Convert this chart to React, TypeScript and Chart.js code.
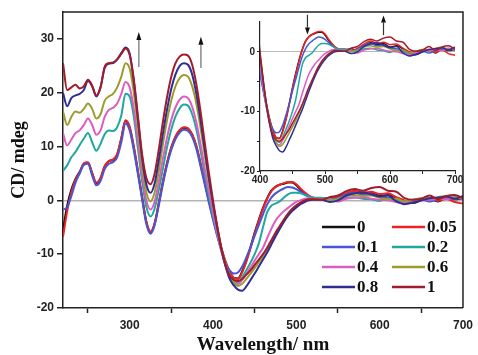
import React, { useEffect, useRef } from 'react';
import { Chart, registerables } from 'chart.js';

Chart.register(...registerables);

// Wavelength grid (nm)
const wavelengths = [
  220, 225, 230, 235, 240, 245, 250, 255, 260, 265, 270, 275, 280, 285, 290, 295,
  300, 305, 310, 315, 320, 325, 330, 335, 340, 345, 350, 355, 360, 365, 370, 375,
  380, 385, 390, 395, 400, 405, 410, 415, 420, 425, 430, 435, 440, 445, 450, 455,
  460, 465, 470, 475, 480, 485, 490, 495, 500, 505, 510, 515, 520,
  530, 540, 550, 560, 570, 580, 590, 600, 610, 620, 630, 640, 650, 660, 670, 680, 690, 700,
];

const seriesLabels = ['0', '0.05', '0.1', '0.2', '0.4', '0.6', '0.8', '1'];
const seriesColors = ['#111111', '#ee2222', '#4a55d6', '#1fa8a0', '#dd5cc0', '#9c9c2c', '#2e2e96', '#a11c2c'];

const cd0 = [
  -5.5, -1, 2, 4, 5.3, 6.8, 7, 5, 3.2, 4, 6.3, 7.3, 7.5, 8.5, 11.5, 14.8,
  13.5, 9.8, 5.2, 0.5, -4, -5.9, -4.3, -0.5, 3.5, 7, 9.8, 11.8, 13, 13.5, 13.3, 12.2,
  10, 6.8, 3.4, 0, -3.2, -6.3, -9, -11.5, -13.3, -14.4, -14.5, -13.2, -11.2, -8.7, -6, -3.6,
  -1.4, 0.4, 1.8, 2.5, 2.9, 3.1, 3.3, 3.3, 2.8, 2.0, 1.3, 0.8, 0.5,
  0.3, 0.5, 0.2, 1, 1.5, 1.2, 1.4, 0.8, 1, 0.5, -0.3, -0.5, 0, 0.3, -0.2, 0.5, 0.2, 0.4,
];
const cd005 = [
  -6.8, -2, 1.5, 3.8, 5.2, 6.9, 7.1, 5.1, 3.3, 4.2, 6.4, 7.3, 7.6, 8.6, 11.6, 14.9,
  13.7, 10, 5.4, 0.6, -3.9, -5.8, -4.2, -0.4, 3.6, 7.1, 9.9, 11.9, 13.1, 13.6, 13.4, 12.3,
  10.2, 7, 3.6, 0.3, -2.9, -6, -8.8, -11.3, -13.2, -14.4, -14.6, -13.4, -11.4, -8.9, -6.2, -3.8,
  -1.6, 0.3, 1.7, 2.5, 2.9, 3.2, 3.4, 3.4, 3.0, 2.2, 1.5, 0.9, 0.5,
  0.4, 0.2, 0.6, 1.3, 1.8, 1.4, 1.6, 1.2, 1.3, 0.6, 0, -0.3, 0.2, 0.4, -0.1, 0.3, -0.3, -0.6,
];
const cd01 = [
  -1.7, -1.3, 0.8, 3.3, 5, 6.6, 6.8, 4.6, 2.8, 3.6, 5.8, 6.8, 7.1, 8, 10.8, 14.3,
  13, 9.3, 4.8, 0.1, -4.4, -6.2, -4.6, -0.9, 3.1, 6.6, 9.4, 11.4, 12.6, 13.1, 12.9, 11.8,
  9.6, 6.4, 3, -0.4, -3.6, -6.6, -9.3, -11.6, -13, -13.6, -13.4, -12.3, -10.6, -8.7, -6.6, -4.6,
  -2.6, -0.8, 0.5, 1.3, 1.8, 2.2, 2.5, 2.4, 2.1, 1.6, 1.1, 0.7, 0.4,
  0.3, 0.1, 0.4, 1.1, 1.4, 1, 1.2, 0.6, 0.5, 0.2, -0.6, -0.4, 0.1, -0.2, 0.2, 0.4, 0.6, 0.2,
];
const cd02 = [
  5.5, 6.5, 8, 9, 10.3, 11.5, 12.5, 10.8, 9.2, 10.5, 12.3, 13, 12.9, 13.6, 15.8, 19.8,
  19.3, 15.5, 9.5, 3.5, -1.2, -3, -1.5, 2, 6, 10, 13.2, 15.6, 17.1, 17.8, 17.6, 16,
  13.2, 9.3, 5, 1, -2.8, -6.2, -9.3, -12, -13.9, -14.9, -15.2, -14.3, -13, -11.6, -10, -8,
  -5, -2.2, -1, -0.6, -0.2, 0.5, 1.1, 1.4, 1.4, 1.3, 1.0, 0.7, 0.5,
  0.5, 0.3, 0.1, 0.5, 0.6, 0.3, 0.2, -0.1, 0.3, 0, -0.2, 0.1, 0.3, 0.2, 0.5, 0.6, 0.3, 0.5,
];
const cd04 = [
  12.5, 10.2, 11.3, 12.5, 13, 14, 15.2, 14, 12.2, 13, 15.5, 16.8, 17.2, 18, 19.8, 22,
  21, 17, 11, 4.8, 0, -1.7, -0.2, 3.5, 7.8, 11.8, 15, 17.3, 18.7, 19.3, 19, 17.4,
  14.5, 10.5, 6, 1.8, -2.2, -6, -9.4, -12.2, -14.2, -15.3, -15.6, -14.8, -13.7, -12.5, -11.2, -10,
  -8.8, -7, -5.3, -3.8, -2.8, -2.0, -1.4, -0.8, -0.3, 0, 0.3, 0.4, 0.3,
  0.3, 0.2, -0.2, 0.3, 0.5, 0.6, 0.3, 0.1, 0, -0.3, -0.5, -0.2, 0.2, 0.1, 0.3, 0.2, 0.5, 0.3,
];
const cd06 = [
  16.5, 14, 15.5, 16.5, 16.3, 17, 18, 17, 15.2, 16, 18.5, 19.3, 19.8, 21, 23, 25.5,
  24.5, 20, 13.5, 6.5, 1.5, -0.2, 1.5, 5.5, 10.5, 15, 18.6, 21.2, 22.7, 23.3, 23, 21.2,
  18, 13.5, 8.5, 3.6, -0.8, -5, -8.8, -11.8, -14, -15.3, -15.9, -15.5, -14.6, -13.6, -12.6, -11.5,
  -10.3, -9, -7.7, -6.2, -4.9, -3.6, -2.5, -1.6, -1, -0.5, -0.1, 0.2, 0.2,
  0.2, 0, 0.3, 0.8, 1, 0.8, 0.9, 0.5, 0.2, 0.3, -0.2, 0.1, 0.4, 0.3, 0.6, 0.8, 0.4, 0.6,
];
const cd08 = [
  20, 17.5, 19, 19.5, 19.8, 20.5, 22.2, 21.2, 19.3, 21, 24.6, 25.4, 25.5, 26.2, 27.4, 28.4,
  27.3, 22, 15, 7.8, 3, 1.4, 3.2, 7.5, 12.5, 17, 20.8, 23.4, 25, 25.5, 25.2, 23.4,
  19.8, 15, 9.5, 4.2, -0.6, -5, -9, -12.2, -14.6, -15.8, -16.6, -16.8, -16, -14.8, -13.6, -12.3,
  -11, -9.7, -8.2, -6.7, -5.3, -4, -2.9, -2, -1.3, -0.7, -0.3, 0, 0.1,
  0.1, -0.3, 0, 0.9, 1.3, 1.5, 1.1, 0.7, 0.9, -0.2, -0.7, -0.4, 0, 0.4, 0.5, 0.7, 0.3, 0.8,
];
const cd1 = [
  25.5, 20.5, 21, 21.5, 20.8, 21.2, 22.4, 21.3, 19.5, 21, 24.8, 25.5, 25.6, 26.2, 27.2, 28.2,
  27, 22.5, 15.5, 8.5, 4.2, 3, 5, 9.5, 14.7, 19.3, 23, 25.5, 26.7, 27.1, 26.9, 25.2,
  21.6, 16.6, 10.8, 5.2, 0, -4.7, -8.8, -12, -14, -14.8, -15, -14.6, -13.8, -13, -12, -11,
  -10, -8.8, -7.4, -6, -4.8, -3.6, -2.5, -1.6, -0.9, -0.4, 0, 0.2, 0.2,
  0.1, 0.6, 0.9, 1.7, 2.1, 1.8, 2.3, 2.5, 1.8, 1.6, 0.4, 0.1, 0.3, 0.9, 0.2, 0.8, 1, 0.4,
];
const seriesValues = [cd0, cd005, cd01, cd02, cd04, cd06, cd08, cd1];

// Axis ticks
const mainXTicks = [250, 300, 350, 400, 450, 500, 550, 600, 650, 700];
const mainYTicks = [-20, -10, 0, 10, 20, 30];
const insetXTicks = [400, 450, 500, 550, 600, 650, 700];
const insetYTicks = [-20, -15, -10, -5, 0];

// Arrow annotations (wavelength, start value, tip value)
const mainArrows = [
  { x: 311, from: 24.8, to: 31.3 },
  { x: 385.5, from: 24.6, to: 30.4 },
];
const insetArrows = [
  { x: 473, from: 6.2, to: 2.9 },
  { x: 590, from: 2.8, to: 6.1 },
];

const TICK_FONT = 'Liberation Sans';
const SERIF = 'Liberation Serif';
const AXIS_COLOR = '#222222';

function makeDatasets(width: number) {
  return seriesValues.map((vals, i) => ({
    label: seriesLabels[i],
    data: wavelengths.map((w, j) => ({ x: w, y: vals[j] })),
    borderColor: seriesColors[i],
    backgroundColor: seriesColors[i],
    borderWidth: width,
    pointRadius: 0,
    fill: false,
    cubicInterpolationMode: 'monotone' as const,
    order: seriesLabels.length - i,
  }));
}

function drawArrow(
  ctx: CanvasRenderingContext2D,
  x: number,
  yFrom: number,
  yTo: number,
  shaftColor: string,
  headColor: string,
  headLen: number,
  headHalf: number,
  lw: number
) {
  const dir = yTo < yFrom ? -1 : 1;
  const baseY = yTo - dir * headLen;
  ctx.save();
  ctx.strokeStyle = shaftColor;
  ctx.lineWidth = lw;
  ctx.beginPath();
  ctx.moveTo(x, yFrom);
  ctx.lineTo(x, baseY);
  ctx.stroke();
  ctx.fillStyle = headColor;
  ctx.beginPath();
  ctx.moveTo(x, yTo);
  ctx.lineTo(x - headHalf, baseY);
  ctx.lineTo(x + headHalf, baseY);
  ctx.closePath();
  ctx.fill();
  ctx.restore();
}

function arrowPlugin(arrows: { x: number; from: number; to: number }[], shaft: string, head: string, headLen: number, headHalf: number, lw: number) {
  return {
    id: 'arrows',
    afterDatasetsDraw(chart: any) {
      const { ctx, scales } = chart;
      arrows.forEach((a) => {
        const px = scales.x.getPixelForValue(a.x);
        drawArrow(ctx, px, scales.y.getPixelForValue(a.from), scales.y.getPixelForValue(a.to), shaft, head, headLen, headHalf, lw);
      });
    },
  };
}

const framePlugin = {
  id: 'frame',
  afterDraw(chart: any) {
    const { ctx, chartArea } = chart;
    ctx.save();
    ctx.strokeStyle = AXIS_COLOR;
    ctx.lineWidth = 1.5;
    ctx.beginPath();
    ctx.moveTo(chartArea.left, chartArea.top);
    ctx.lineTo(chartArea.right, chartArea.top);
    ctx.lineTo(chartArea.right, chartArea.bottom);
    ctx.stroke();
    ctx.restore();
  },
};

const legendPlugin = {
  id: 'gridLegend',
  afterDraw(chart: any) {
    const { ctx } = chart;
    const colLineX = [322, 392];
    const lineLen = 33;
    const rowY0 = 227;
    const rowGap = 20;
    ctx.save();
    ctx.font = `bold 17px "${SERIF}"`;
    ctx.textBaseline = 'middle';
    ctx.textAlign = 'left';
    chart.data.datasets.forEach((ds: any, i: number) => {
      const row = Math.floor(i / 2);
      const col = i % 2;
      const x = colLineX[col];
      const y = rowY0 + row * rowGap;
      ctx.strokeStyle = ds.borderColor;
      ctx.lineWidth = 2.5;
      ctx.beginPath();
      ctx.moveTo(x, y);
      ctx.lineTo(x + lineLen, y);
      ctx.stroke();
      ctx.fillStyle = '#111';
      ctx.fillText(ds.label, x + lineLen + 2, y + 1);
    });
    ctx.restore();
  },
};

export default function App() {
  const mainRef = useRef<HTMLCanvasElement | null>(null);
  const insetRef = useRef<HTMLCanvasElement | null>(null);

  useEffect(() => {
    if (!mainRef.current || !insetRef.current) return;

    const main = new Chart(mainRef.current, {
      type: 'line',
      data: { datasets: makeDatasets(2) as any },
      options: {
        animation: false,
        responsive: false,
        events: [],
        layout: { padding: { top: 12, right: 13, left: 0, bottom: 0 } },
        plugins: { legend: { display: false }, tooltip: { enabled: false } },
        scales: {
          x: {
            type: 'linear',
            min: 220,
            max: 700,
            afterBuildTicks: (s: any) => {
              s.ticks = mainXTicks.map((v) => ({ value: v }));
            },
            afterFit: (s: any) => {
              s.height = 47;
            },
            ticks: {
              autoSkip: false,
              maxRotation: 0,
              padding: 5,
              color: AXIS_COLOR,
              font: { family: TICK_FONT, size: 12, weight: 'bold' },
              callback: (v: any) => (Number(v) % 100 === 0 ? String(v) : ''),
            },
            grid: {
              drawOnChartArea: false,
              tickLength: 5,
              tickWidth: 1.5,
              tickColor: (c: any) => (c.tick && c.tick.value % 100 === 50 ? AXIS_COLOR : 'rgba(0,0,0,0)'),
            },
            border: { display: true, color: AXIS_COLOR, width: 1.5 },
            title: {
              display: true,
              text: 'Wavelength/ nm',
              color: '#111',
              font: { family: SERIF, size: 19, weight: 'bold', lineHeight: 1 },
              padding: { top: 0, bottom: 0 },
            },
          },
          y: {
            type: 'linear',
            min: -20,
            max: 35,
            afterBuildTicks: (s: any) => {
              s.ticks = mainYTicks.map((v) => ({ value: v }));
            },
            afterFit: (s: any) => {
              s.width = 63;
            },
            ticks: {
              padding: 3,
              color: AXIS_COLOR,
              font: { family: TICK_FONT, size: 12, weight: 'bold' },
              callback: (v: any) => String(v),
            },
            grid: {
              drawOnChartArea: true,
              color: (c: any) => (c.tick && c.tick.value === 0 ? '#b4b4b4' : 'rgba(0,0,0,0)'),
              lineWidth: 1.5,
              tickLength: 6,
              tickWidth: 1.5,
              tickColor: AXIS_COLOR,
            },
            border: { display: true, color: AXIS_COLOR, width: 1.5 },
            title: {
              display: true,
              text: 'CD/ mdeg',
              color: '#111',
              font: { family: SERIF, size: 18, weight: 'bold', lineHeight: 1 },
              padding: { top: 10, bottom: 0 },
            },
          },
        },
      },
      plugins: [framePlugin, arrowPlugin(mainArrows, '#8a8a8a', '#111', 8, 2.5, 1.5), legendPlugin],
    });

    const inset = new Chart(insetRef.current, {
      type: 'line',
      data: { datasets: makeDatasets(1.5) as any },
      options: {
        animation: false,
        responsive: false,
        events: [],
        layout: { padding: { top: 14, right: 20, left: 0, bottom: 0 } },
        plugins: { legend: { display: false }, tooltip: { enabled: false } },
        scales: {
          x: {
            type: 'linear',
            min: 400,
            max: 700,
            afterBuildTicks: (s: any) => {
              s.ticks = insetXTicks.map((v) => ({ value: v }));
            },
            afterFit: (s: any) => {
              s.height = 17;
            },
            ticks: {
              autoSkip: false,
              maxRotation: 0,
              padding: 0,
              color: AXIS_COLOR,
              font: { family: TICK_FONT, size: 10, weight: 'bold' },
              callback: (v: any) => (Number(v) % 100 === 0 ? String(v) : ''),
            },
            grid: { drawOnChartArea: false, tickLength: 3, tickWidth: 1, tickColor: AXIS_COLOR },
            border: { display: true, color: AXIS_COLOR, width: 1.2 },
          },
          y: {
            type: 'linear',
            min: -20,
            max: 5,
            afterBuildTicks: (s: any) => {
              s.ticks = insetYTicks.map((v) => ({ value: v }));
            },
            afterFit: (s: any) => {
              s.width = 35;
            },
            ticks: {
              padding: 2,
              color: AXIS_COLOR,
              font: { family: TICK_FONT, size: 10, weight: 'bold' },
              callback: (v: any) => (Number(v) % 10 === 0 ? String(v) : ''),
            },
            grid: {
              drawOnChartArea: true,
              color: (c: any) => (c.tick && c.tick.value === 0 ? '#b8b8b8' : 'rgba(0,0,0,0)'),
              lineWidth: 1,
              tickLength: 3,
              tickWidth: 1,
              tickColor: AXIS_COLOR,
            },
            border: { display: true, color: AXIS_COLOR, width: 1.2 },
          },
        },
      },
      plugins: [arrowPlugin(insetArrows, '#333', '#111', 7, 2.5, 1.2)],
    });

    return () => {
      main.destroy();
      inset.destroy();
    };
  }, []);

  return (
    <div style={{ position: 'fixed', left: 0, top: 0, width: 478, height: 355, background: '#fff' }}>
      <canvas ref={mainRef} width={478} height={355} style={{ position: 'absolute', left: 0, top: 0, display: 'block' }} />
      <canvas ref={insetRef} width={250} height={180} style={{ position: 'absolute', left: 225, top: 8, display: 'block' }} />
    </div>
  );
}
